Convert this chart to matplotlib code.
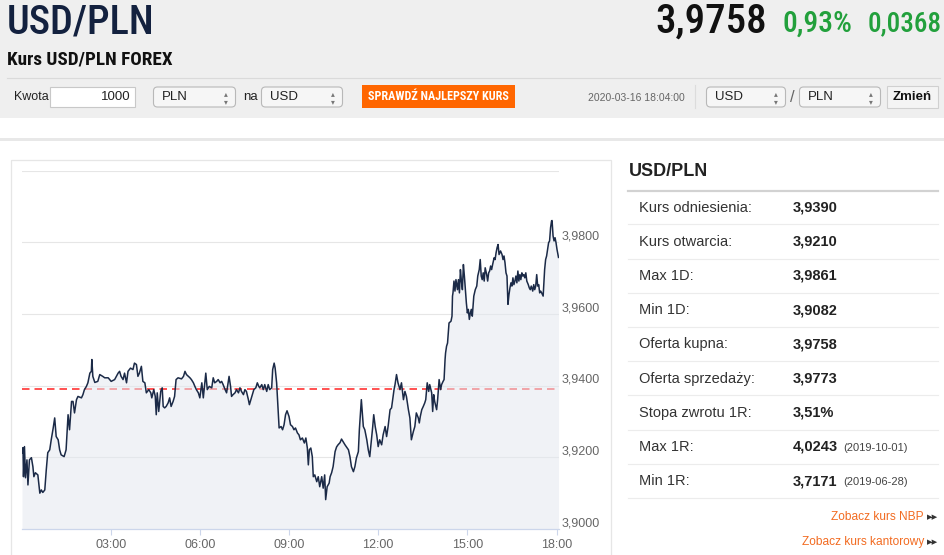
import matplotlib
matplotlib.use('Agg')
import matplotlib.pyplot as plt
from matplotlib.patches import Rectangle, FancyBboxPatch
from matplotlib import font_manager, transforms
from matplotlib.font_manager import FontProperties

# ---------------- data ----------------
minutes = [
    1, 3, 4, 6, 8, 11, 13, 16, 20, 23, 25, 28, 33, 37, 40, 43, 47, 50, 53, 57,
    60, 64, 67, 70, 74, 77, 80, 86, 90, 94, 97, 101, 104, 107, 111, 114, 121, 124, 127, 131,
    134, 138, 141, 142, 144, 148, 154, 158, 164, 168, 175, 181, 188, 195, 198, 201, 205, 208, 212, 215,
    220, 225, 228, 232, 235, 238, 242, 245, 249, 252, 257, 261, 263, 267, 270, 272, 274, 277, 281, 284,
    286, 289, 292, 296, 299, 302, 306, 309, 312,
    316, 323, 327, 330, 333, 337, 340, 343, 347, 350, 353, 357, 360, 364, 367, 370, 372, 375, 379, 384,
    387, 390, 394, 397, 401, 404, 407, 411, 414, 417, 419, 422, 424, 427, 431, 434, 438, 441, 444, 448,
    451, 454, 458, 460, 463, 466, 469, 473, 476, 479, 481, 485, 488, 491, 495, 498, 501, 505, 507, 510,
    512, 515, 518, 520, 524, 527, 530, 533, 536, 540, 543, 547, 550, 553, 557, 560, 563, 567, 571, 574,
    577, 579, 581, 584, 587, 589, 592, 596, 599, 602, 606, 609, 612, 614, 617, 621,
    623, 626, 629, 633, 636, 639, 643, 646, 649, 653, 656, 660, 663, 666, 670, 673, 676, 680, 682, 686,
    690, 693, 697, 700, 703, 705, 709, 711, 714, 717, 720, 723, 727, 730, 734, 737, 740, 744, 747, 750,
    752, 754, 757, 760, 764, 767, 771, 774, 777, 781, 784, 787, 791, 794, 797, 801, 803, 805, 808, 811,
    814, 816, 819, 822, 824, 828, 830, 832, 834, 838, 840, 842, 843, 846, 848, 851, 853, 855,
    856, 858, 860, 863, 867, 869, 870, 871, 873, 875, 877, 880, 882, 884, 886, 888, 890, 892, 894, 896,
    898, 900, 902, 904, 906, 908, 910, 913, 916, 919, 921, 924, 926, 928, 930, 932, 934, 936, 939, 941,
    943, 945, 947, 949, 951, 954, 956, 958, 960, 962, 964, 967, 970, 972, 974, 976, 978, 980, 982, 984,
    986, 988, 990, 992, 994, 996, 998, 1000, 1002, 1004, 1006, 1008, 1010, 1012, 1014, 1016, 1018, 1020, 1023, 1025,
    1027, 1029, 1032, 1034, 1036, 1038, 1040, 1042, 1044, 1046, 1048, 1050, 1053, 1056, 1058, 1060, 1062, 1064, 1066, 1068,
    1070, 1071, 1073, 1075, 1077, 1079, 1081, 1084,
]
usdpln = [
    3.9212, 3.9227, 3.9146, 3.9230, 3.9143, 3.9193, 3.9123, 3.9193, 3.9199, 3.9174, 3.9146, 3.9157, 3.9151, 3.9100, 3.9109, 3.9102, 3.9109, 3.9165, 3.9213, 3.9221,
    3.9249, 3.9282, 3.9310, 3.9258, 3.9249, 3.9221, 3.9207, 3.9202, 3.9221, 3.9319, 3.9277, 3.9356, 3.9356, 3.9324, 3.9361, 3.9370, 3.9366, 3.9375, 3.9389, 3.9398,
    3.9408, 3.9435, 3.9440, 3.9473, 3.9426, 3.9409, 3.9412, 3.9431, 3.9426, 3.9422, 3.9422, 3.9412, 3.9417, 3.9435, 3.9440, 3.9426, 3.9417, 3.9435, 3.9408, 3.9440,
    3.9449, 3.9445, 3.9463, 3.9459, 3.9426, 3.9435, 3.9454, 3.9412, 3.9408, 3.9380, 3.9389, 3.9380, 3.9366, 3.9389, 3.9370, 3.9319, 3.9380, 3.9328, 3.9384, 3.9394,
    3.9342, 3.9338, 3.9342, 3.9352, 3.9366, 3.9342, 3.9356, 3.9370, 3.9417,
    3.9422, 3.9419, 3.9426, 3.9440, 3.9431, 3.9426, 3.9422, 3.9417, 3.9408, 3.9398, 3.9389, 3.9380, 3.9366, 3.9408, 3.9366, 3.9408, 3.9435, 3.9389, 3.9398, 3.9394,
    3.9422, 3.9408, 3.9412, 3.9417, 3.9408, 3.9412, 3.9403, 3.9389, 3.9380, 3.9408, 3.9426, 3.9398, 3.9370, 3.9375, 3.9380, 3.9389, 3.9380, 3.9394, 3.9384, 3.9375,
    3.9389, 3.9384, 3.9361, 3.9347, 3.9361, 3.9375, 3.9389, 3.9394, 3.9408, 3.9398, 3.9394, 3.9403, 3.9389, 3.9403, 3.9384, 3.9403, 3.9389, 3.9394, 3.9445, 3.9463,
    3.9449, 3.9408, 3.9333, 3.9282, 3.9286, 3.9277, 3.9291, 3.9319, 3.9330, 3.9314, 3.9291, 3.9286, 3.9277, 3.9282, 3.9268, 3.9263, 3.9249, 3.9254, 3.9240, 3.9254,
    3.9226, 3.9179, 3.9221, 3.9226, 3.9202, 3.9146, 3.9151, 3.9132, 3.9146, 3.9118, 3.9146, 3.9114, 3.9151, 3.9082, 3.9118, 3.9128,
    3.9146, 3.9157, 3.9174, 3.9216, 3.9229, 3.9235, 3.9241, 3.9251, 3.9244, 3.9235, 3.9229, 3.9221, 3.9202, 3.9174, 3.9160, 3.9174, 3.9198, 3.9216, 3.9277, 3.9361,
    3.9286, 3.9277, 3.9249, 3.9221, 3.9202, 3.9230, 3.9286, 3.9319, 3.9286, 3.9263, 3.9230, 3.9249, 3.9235, 3.9263, 3.9286, 3.9258, 3.9286, 3.9333, 3.9338, 3.9370,
    3.9389, 3.9403, 3.9431, 3.9408, 3.9389, 3.9408, 3.9361, 3.9384, 3.9370, 3.9333, 3.9310, 3.9249, 3.9272, 3.9286, 3.9324, 3.9310, 3.9296, 3.9314, 3.9333, 3.9342,
    3.9352, 3.9361, 3.9408, 3.9384, 3.9403, 3.9380, 3.9328, 3.9375, 3.9356, 3.9333, 3.9361, 3.9398, 3.9417, 3.9389, 3.9403, 3.9412, 3.9417, 3.9473,
    3.9491, 3.9510, 3.9519, 3.9575, 3.9580, 3.9594, 3.9650, 3.9659, 3.9692, 3.9664, 3.9696, 3.9668, 3.9696, 3.9659, 3.9724, 3.9692, 3.9668, 3.9738, 3.9706, 3.9668,
    3.9631, 3.9603, 3.9613, 3.9585, 3.9603, 3.9613, 3.9594, 3.9650, 3.9668, 3.9678, 3.9706, 3.9724, 3.9752, 3.9706, 3.9696, 3.9715, 3.9692, 3.9729, 3.9710, 3.9692,
    3.9715, 3.9720, 3.9734, 3.9724, 3.9738, 3.9757, 3.9752, 3.9771, 3.9785, 3.9794, 3.9766, 3.9776, 3.9766, 3.9752, 3.9762, 3.9743, 3.9715, 3.9706, 3.9627, 3.9654,
    3.9673, 3.9687, 3.9678, 3.9701, 3.9682, 3.9692, 3.9706, 3.9687, 3.9720, 3.9692, 3.9710, 3.9696, 3.9715, 3.9706, 3.9710, 3.9701, 3.9715, 3.9692, 3.9682, 3.9673,
    3.9668, 3.9678, 3.9664, 3.9682, 3.9668, 3.9678, 3.9710, 3.9678, 3.9682, 3.9659, 3.9664, 3.9659, 3.9650, 3.9724, 3.9752, 3.9762, 3.9780, 3.9799, 3.9804, 3.9841,
    3.9860, 3.9861, 3.9818, 3.9804, 3.9813, 3.9799, 3.9780, 3.9758,
]
reference_rate = 3.9390

x_ticks = [180, 360, 540, 720, 900, 1080]
x_tick_labels = ['03:00', '06:00', '09:00', '12:00', '15:00', '18:00']
y_grid = [3.90, 3.92, 3.94, 3.96, 3.98, 4.00]
y_tick_labels = ['3,9000', '3,9200', '3,9400', '3,9600', '3,9800']

pair = 'USD/PLN'
last_rate = '3,9758'
change_pct = '0,93%'
change_abs = '0,0368'
subtitle = 'Kurs USD/PLN FOREX'
timestamp = '2020-03-16 18:04:00'

stat_labels = ['Kurs odniesienia:', 'Kurs otwarcia:', 'Max 1D:', 'Min 1D:', 'Oferta kupna:',
               'Oferta sprzedaży:', 'Stopa zwrotu 1R:', 'Max 1R:', 'Min 1R:']
stat_values = ['3,9390', '3,9210', '3,9861', '3,9082', '3,9758', '3,9773', '3,51%', '4,0243', '3,7171']
stat_dates = ['', '', '', '', '', '', '', '(2019-10-01)', '(2019-06-28)']
links = ['Zobacz kurs NBP', 'Zobacz kurs kantorowy']

# ---------------- fonts ----------------
plt.rcParams['font.family'] = ['Liberation Sans', 'DejaVu Sans']


def _weight(f):
    w = f.weight
    if isinstance(w, int):
        return w
    try:
        return int(w)
    except (TypeError, ValueError):
        return font_manager.weight_dict.get(str(w), 400)


def find_condensed(target):
    best = None
    for f in font_manager.fontManager.ttflist:
        nm = f.name.lower()
        cond = ('narrow' in nm or 'condensed' in nm or
                str(f.stretch) in ('condensed', 'semi-condensed', 'extra-condensed', '75', '87'))
        if not cond or 'mono' in nm or ('serif' in nm and 'sans' not in nm):
            continue
        if f.style != 'normal':
            continue
        fam = 0 if 'liberation' in nm else (1 if 'roboto' in nm else 2)
        score = (abs(_weight(f) - target), fam)
        if best is None or score < best[0]:
            best = (score, f.fname)
    return best[1] if best else None


COND = find_condensed(400)
COND_M = find_condensed(500)
COND_B = find_condensed(700)


def fp(size, bold=False, condensed=False, medium=False):
    if condensed:
        path = COND_B if bold else (COND_M if medium else COND)
        if path:
            return FontProperties(fname=path, size=size)
    return FontProperties(family=['Liberation Sans', 'DejaVu Sans'], size=size,
                          weight='bold' if bold else 'normal')


fig = plt.figure(figsize=(9.45, 5.55), dpi=100)
fig.patch.set_facecolor('white')
bg = fig.add_axes([0, 0, 1, 1])
bg.set_xlim(0, 945)
bg.set_ylim(555, 0)
bg.axis('off')
renderer = fig.canvas.get_renderer()


def fit(t, target_px):
    w = t.get_window_extent(renderer).width
    if w > 0:
        t.set_fontsize(t.get_fontsize() * target_px / w)


# header background
bg.add_patch(Rectangle((0, 0), 945, 118, facecolor='#efefef', edgecolor='none'))
bg.add_patch(Rectangle((0, 137.5), 945, 3, facecolor='#e8e8e8', edgecolor='none'))
bg.plot([7, 940], [77.5, 77.5], color='#dadada', lw=0.8)

t = bg.text(7, 22, pair, fontproperties=fp(30, condensed=True, medium=True), color='#13213f', va='center', ha='left')
fit(t, 148)
t = bg.text(655, 22, last_rate, fontproperties=fp(28, condensed=True, medium=True), color='#111111', va='center', ha='left')
fit(t, 112)
t = bg.text(783, 24, change_pct, fontproperties=fp(19, condensed=True, medium=True), color='#22a03c', va='center', ha='left')
fit(t, 70)
t = bg.text(868, 24, change_abs, fontproperties=fp(19, condensed=True, medium=True), color='#22a03c', va='center', ha='left')
fit(t, 74)
t = bg.text(7, 59, subtitle, fontproperties=fp(11.5, bold=True, condensed=True), color='#111111', va='center', ha='left')
fit(t, 166)


# form row
def select(x0, x1, label):
    bg.add_patch(FancyBboxPatch((x0 + 2, 88.5), x1 - x0 - 4, 17, boxstyle='round,pad=1.5,rounding_size=4',
                                facecolor='#f6f6f6', edgecolor='#b8b8b8', lw=0.8))
    bg.text(x0 + 9, 97.5, label, size=9.5, color='#222', va='center', ha='left')
    bg.text(x1 - 10, 97.5, '▴\n▾', size=5.5, color='#777', va='center', ha='center',
            linespacing=0.75, family=['DejaVu Sans'])


bg.text(14, 97.5, 'Kwota', size=9, color='#222', va='center', ha='left')
bg.add_patch(Rectangle((50, 86.5), 85, 20.5, facecolor='white', edgecolor='#c8c8c8', lw=0.8))
bg.text(131, 97.5, '1000', size=9.5, color='#222', va='center', ha='right')
select(153, 236, 'PLN')
bg.text(243, 97.5, 'na', size=9.5, color='#222', va='center', ha='left')
select(261, 343, 'USD')
bg.add_patch(Rectangle((362, 84.5), 153, 23.5, facecolor='#ff6600', edgecolor='none'))
t = bg.text(438.5, 97, 'SPRAWDŹ NAJLEPSZY KURS', fontproperties=fp(7.8, bold=True, condensed=True),
            color='white', va='center', ha='center')
fit(t, 141)
t = bg.text(636, 98, timestamp, size=8, color='#666', va='center', ha='center')
fit(t, 96)
bg.plot([695, 695], [85, 108], color='#dcdcdc', lw=0.8)
select(706, 786, 'USD')
bg.text(792, 98, '/', size=12, color='#666', va='center', ha='center')
select(799, 881, 'PLN')
bg.add_patch(Rectangle((887, 85.5), 51, 22.5, facecolor='#f4f4f4', edgecolor='#d0d0d0', lw=0.8))
bg.text(912.5, 97.5, 'Zmień', size=9.5, weight='bold', color='#111', va='center', ha='center')

# chart panel border
bg.add_patch(Rectangle((11, 160), 600, 420, fill=False, edgecolor='#e6e6e6', lw=0.9))

# ---------------- chart ----------------
ax = fig.add_axes([22 / 945, (555 - 529) / 555, 537 / 945, (529 - 170.7) / 555])
ax.set_facecolor('none')
ax.set_xlim(1, 1085)
ax.set_ylim(3.90, 4.00)
for s in ax.spines.values():
    s.set_visible(False)
for v in y_grid[1:]:
    ax.axhline(v, color='#e6e6e6', lw=0.8, zorder=0)
ax.axhline(y_grid[0], color='#ccd6eb', lw=0.9, zorder=4, clip_on=False)
ax.axhline(reference_rate, color='#ff3333', lw=1.2, dashes=(4.5, 3.0), zorder=1)
ax.fill_between(minutes, usdpln, y_grid[0], color='#e4e8f0', alpha=0.55, lw=0, zorder=2)
ax.plot(minutes, usdpln, color='#1b2a47', lw=1.1, zorder=3)

ax.set_xticks(x_ticks)
ax.set_xticklabels(x_tick_labels)
ax.tick_params(axis='x', direction='out', length=4.5, width=0.8, color='#ccd6eb',
               labelcolor='#666666', labelsize=9, pad=2.5)
ax.set_yticks([])

trans = transforms.blended_transform_factory(ax.transAxes, ax.transData) + \
    transforms.ScaledTranslation(2.5 / 100, 6 / 100, fig.dpi_scale_trans)
for v, lab in zip(y_grid, y_tick_labels):
    ax.text(1.0, v, lab, transform=trans, ha='left', va='center', color='#666666', size=9, clip_on=False)

# ---------------- right panel ----------------
bg.text(629, 172, pair, size=13, weight='bold', color='#222', va='center', ha='left')
bg.plot([628, 938], [190.5, 190.5], color='#d2d2d2', lw=1.6)
for i, (lab, val, dt) in enumerate(zip(stat_labels, stat_values, stat_dates)):
    yc = 207.5 + i * 34.2
    bg.text(639, yc, lab, size=10.5, color='#333', va='center', ha='left')
    bg.text(793, yc, val, size=10.5, weight='bold', color='#222', va='center', ha='left')
    if dt:
        bg.text(843, yc + 1, dt, size=8, color='#444', va='center', ha='left')
    ys = yc + 16.8
    bg.plot([628, 938], [ys, ys], color='#ececec', lw=0.8)

for j, ln in enumerate(links):
    yc = 517 + j * 25.5
    bg.text(924, yc, ln, size=8.6, color='#f26b21', va='center', ha='right')
    bg.text(927, yc, '▶▶', size=5.2, color='#333', va='center', ha='left', family=['DejaVu Sans'])

fig.savefig('out.png', dpi=100, facecolor='white')
